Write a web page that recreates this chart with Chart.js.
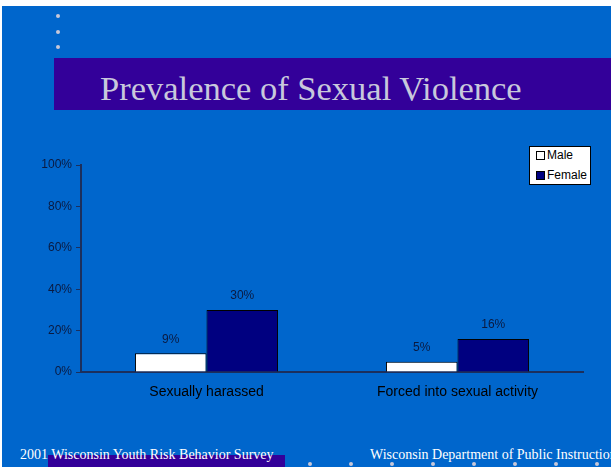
<!DOCTYPE html>
<html>
<head>
<meta charset="utf-8">
<script src="https://cdn.jsdelivr.net/npm/chart.js@4/dist/chart.umd.min.js"></script>
<style>
  html, body { margin: 0; padding: 0; }
  body { width: 611px; height: 467px; background: #fff; position: relative; overflow: hidden; }
  #slide { position: absolute; left: 2px; top: 6px; right: 0; bottom: 0; background: #0066cc; }
  .dot { position: absolute; width: 4px; height: 4px; border-radius: 50%; background: #c8c8d8; }
  #titleBand { position: absolute; left: 54px; top: 58px; width: 557px; height: 52px; background: #330099; }
  #title { position: absolute; left: 100px; top: 68px; font: 34.5px "Liberation Serif", serif; line-height: 40px; color: #c8c8dc; white-space: nowrap; }
  #footBand { position: absolute; left: 48px; top: 455px; width: 237px; height: 12px; background: #330099; }
  .foot { position: absolute; top: 447px; font: 14px "Liberation Serif", serif; color: #fff; white-space: nowrap; }
  #chartBox { position: absolute; left: 0; top: 140px; width: 611px; height: 280px; }
  #legend { position: absolute; left: 529px; top: 146px; width: 60px; height: 37px; background: #fff; border: 1px solid #000; font: 12px "Liberation Sans", Arial, sans-serif; color: #000; }
  #legend div { position: absolute; left: 6px; white-space: nowrap; line-height: 14px; }
  #legend span { display: inline-block; width: 7px; height: 7px; border: 1px solid #000; margin-right: 2px; vertical-align: -1px; }
</style>
</head>
<body>
<div id="slide"></div>
<div class="dot" style="left:56px;top:14px"></div>
<div class="dot" style="left:56px;top:30px"></div>
<div class="dot" style="left:56px;top:45px"></div>
<div id="titleBand"></div>
<div id="title">Prevalence of Sexual Violence</div>
<div id="footBand"></div>
<div class="foot" style="left:20px">2001 Wisconsin Youth Risk Behavior Survey</div>
<div class="foot" style="left:370px">Wisconsin Department of Public Instruction</div>
<div id="bottomDots"></div>
<div id="chartBox"><canvas id="chart" width="611" height="280"></canvas></div>
<div id="legend"></div>

<script>
var categories = ['Sexually harassed', 'Forced into sexual activity'];
var maleValues = [9, 5];
var femaleValues = [30, 16];
var yTicks = [0, 20, 40, 60, 80, 100];
var seriesNames = ['Male', 'Female'];
var seriesColors = ['#ffffff', '#000080'];

// little dots along the bottom edge
var dotBox = document.getElementById('bottomDots');
for (var i = 0; i < 8; i++) {
    var d = document.createElement('div');
    d.className = 'dot';
    d.style.left = (308 + i * 41) + 'px';
    d.style.top = '462px';
    dotBox.appendChild(d);
}

// legend box
var legend = document.getElementById('legend');
seriesNames.forEach(function(name, i) {
    var row = document.createElement('div');
    row.style.top = (1 + i * 20) + 'px';
    row.innerHTML = '<span style="background:' + seriesColors[i] + '"></span>' + name;
    legend.appendChild(row);
});

// percent labels above each bar
var valueLabels = {
    id: 'valueLabels',
    afterDatasetsDraw: function(chart) {
        var ctx = chart.ctx;
        ctx.save();
        ctx.font = '12px "Liberation Sans", Arial, sans-serif';
        ctx.fillStyle = '#0a1a40';
        ctx.textAlign = 'center';
        ctx.textBaseline = 'middle';
        chart.data.datasets.forEach(function(ds, i) {
            chart.getDatasetMeta(i).data.forEach(function(bar, j) {
                ctx.fillText(ds.data[j] + '%', bar.x, bar.y - 14);
            });
        });
        ctx.restore();
    }
};

var ctx = document.getElementById('chart').getContext('2d');
var chart = new Chart(ctx, {
    type: 'bar',
    data: {
        labels: categories,
        datasets: [
            { label: seriesNames[0], data: maleValues, backgroundColor: seriesColors[0], borderColor: '#000', borderWidth: 1 },
            { label: seriesNames[1], data: femaleValues, backgroundColor: seriesColors[1], borderColor: '#000', borderWidth: 1 }
        ]
    },
    options: {
        responsive: false,
        animation: false,
        layout: { padding: { top: 25, right: 28, bottom: 0, left: 0 } },
        datasets: { bar: { categoryPercentage: 0.57, barPercentage: 1 } },
        plugins: {
            legend: { display: false },
            tooltip: { enabled: false }
        },
        scales: {
            x: {
                grid: { display: false },
                border: { display: true, color: '#1c2f5c', width: 2 },
                ticks: { color: '#000', font: { size: 14, family: '"Liberation Sans", Arial, sans-serif' }, padding: 4 },
                afterFit: function(scale) { scale.height = 48; }
            },
            y: {
                min: 0,
                max: 100,
                afterBuildTicks: function(scale) {
                    scale.ticks = yTicks.map(function(v) { return { value: v }; });
                },
                grid: { drawOnChartArea: false, tickLength: 5, color: '#1c2f5c' },
                border: { display: true, color: '#1c2f5c', width: 2 },
                ticks: {
                    color: '#0a1a40',
                    font: { size: 12, family: '"Liberation Sans", Arial, sans-serif' },
                    padding: 4,
                    callback: function(v) { return v + '%'; }
                },
                afterFit: function(scale) { scale.width = 81; }
            }
        }
    },
    plugins: [valueLabels]
});
</script>
</body>
</html>
